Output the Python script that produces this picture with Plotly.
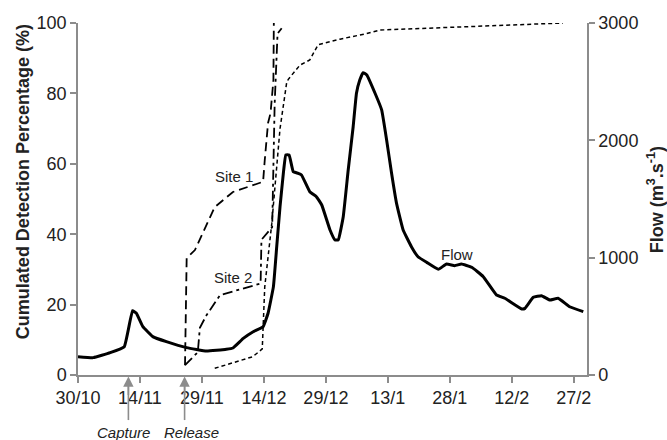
import plotly.graph_objects as go

# x values are days since 30/10
tick_days = [0, 15, 30, 45, 60, 75, 90, 105, 120]
tick_labels = ["30/10", "14/11", "29/11", "14/12", "29/12", "13/1", "28/1", "12/2", "27/2"]

flow_day = [0, 3.7, 7.8, 11.2, 13.2, 14.1, 15.7, 18.1, 21.4, 26.3, 31.1, 35.9, 37.5, 40.0,
            42.4, 44.8, 46.0, 47.3, 48.1, 48.9, 49.7, 50.3, 51.1, 52.1, 53.3, 54.1, 56.1,
            57.7, 59.0, 61.0, 62.2, 63.0, 64.2, 65.4, 66.6, 67.4, 68.2, 69.0, 69.9, 71.9,
            73.5, 74.7, 75.9, 77.1, 78.7, 80.7, 82.3, 84.4, 87.2, 89.2, 91.2, 92.8, 95.3,
            98.1, 101.3, 103.3, 107.4, 108.2, 110.2, 112.2, 114.2, 116.2, 119.0, 122.3]
flow_val = [156, 148, 190, 241, 548, 528, 412, 327, 284, 233, 204, 219, 230, 312,
            369, 412, 526, 753, 1094, 1434, 1719, 1875, 1875, 1733, 1719, 1705, 1562,
            1520, 1449, 1236, 1151, 1151, 1349, 1747, 2116, 2401, 2514, 2577, 2557, 2401,
            2259, 2003, 1719, 1463, 1236, 1094, 1008, 960, 901, 946, 932, 946, 918,
            838, 682, 654, 563, 568, 662, 676, 639, 654, 582, 540]

site1_day = [25.9, 26.3, 28.3, 33.1, 37.5, 44.8, 45.2, 46.0, 46.6, 47.3, 47.4]
site1_pct = [2.8, 33.2, 35.5, 47.7, 52.0, 54.9, 61.0, 71.6, 74.4, 83.8, 100.0]

site2_day = [25.9, 29.0, 29.5, 31.1, 34.4, 44.2, 44.4, 47.0, 47.6, 48.3, 49.3]
site2_pct = [2.8, 6.5, 13.4, 17.0, 22.7, 26.0, 38.4, 42.0, 77.0, 97.0, 98.5]

site56_day = [33.1, 42.3, 44.6, 45.2, 46.9, 48.9, 50.5, 50.9, 53.7, 56.1, 58.1,
              63.4, 69.9, 73.1, 117.4]
site56_pct = [1.9, 5.2, 7.4, 25.0, 43.0, 70.0, 83.0, 84.0, 88.0, 89.5, 93.8,
              95.4, 97.0, 98.0, 100.0]

event_days = [12.2, 25.8]
event_labels = ["Capture", "Release"]
event_label_days = [10.9, 27.4]

FONT = "Arial, Liberation Sans, sans-serif"
GREY = "#8c8c8c"

fig = go.Figure()
fig.add_trace(go.Scatter(x=site1_day, y=site1_pct, mode="lines",
                         line=dict(color="black", width=1.8, dash="9px,5px"), showlegend=False))
fig.add_trace(go.Scatter(x=site2_day, y=site2_pct, mode="lines",
                         line=dict(color="black", width=1.8, dash="10px,4px,3px,4px"), showlegend=False))
fig.add_trace(go.Scatter(x=site56_day, y=site56_pct, mode="lines",
                         line=dict(color="black", width=1.5, dash="4px,3px"), showlegend=False))
fig.add_trace(go.Scatter(x=flow_day, y=flow_val, mode="lines", yaxis="y2",
                         line=dict(color="black", width=3, shape="spline", smoothing=0.3),
                         showlegend=False))

axis_common = dict(showgrid=False, zeroline=False, showline=True, linecolor=GREY, linewidth=1.5,
                   ticks="outside", tickcolor=GREY, ticklen=6, tickwidth=1.5,
                   tickfont=dict(family=FONT, size=18, color="#222"))

fig.update_layout(
    width=667, height=440,
    margin=dict(l=78, r=80, t=23, b=65),
    plot_bgcolor="white", paper_bgcolor="white",
    xaxis=dict(range=[0, 123.2], tickvals=tick_days, ticktext=tick_labels, **axis_common),
    yaxis=dict(range=[0, 100], tickvals=[0, 20, 40, 60, 80, 100], **axis_common),
    yaxis2=dict(range=[0, 3000], tickvals=[0, 1000, 2000, 3000], overlaying="y", side="right",
                **axis_common),
)

ann = []
ann.append(dict(text="<b>Cumulated Detection Percentage (%)</b>", xref="paper", yref="paper",
                x=-0.108, y=0.548, textangle=-90, showarrow=False,
                font=dict(family=FONT, size=18, color="#222"), xanchor="center", yanchor="middle"))
ann.append(dict(text="<b>Flow (m<sup>3</sup>.s<sup>-1</sup>)</b>", xref="paper", yref="paper",
                x=1.134, y=0.497, textangle=-90, showarrow=False,
                font=dict(family=FONT, size=18, color="#222"), xanchor="center", yanchor="middle"))
for txt, xd, yp in [("Site 1", 37.7, 56.3), ("Site 2", 37.5, 27.8), ("Sites 5+6", 102.6, 101.7)]:
    ann.append(dict(text=txt, x=xd, y=yp, xref="x", yref="y", showarrow=False,
                    font=dict(family=FONT, size=15, color="#222")))
ann.append(dict(text="Flow", x=91.7, y=34.1, xref="x", yref="y", showarrow=False,
                font=dict(family=FONT, size=15, color="#222")))
shapes = []
for xd in event_days:
    ann.append(dict(text="", x=xd, y=-0.004, xref="x", yref="paper", showarrow=True,
                    ax=0, ay=20, arrowhead=2, arrowsize=1.3,
                    arrowwidth=1.6, arrowcolor=GREY, standoff=0))
    shapes.append(dict(type="line", xref="x", yref="paper", x0=xd, x1=xd, y0=-0.128, y1=-0.03,
                       line=dict(color=GREY, width=1.6)))
for txt, xd in zip(event_labels, event_label_days):
    ann.append(dict(text="<i>" + txt + "</i>", x=xd, y=-0.162, xref="x", yref="paper",
                    showarrow=False, yanchor="middle", font=dict(family=FONT, size=15, color="#222")))
fig.update_layout(annotations=ann, shapes=shapes)

fig.write_html("out.html")
